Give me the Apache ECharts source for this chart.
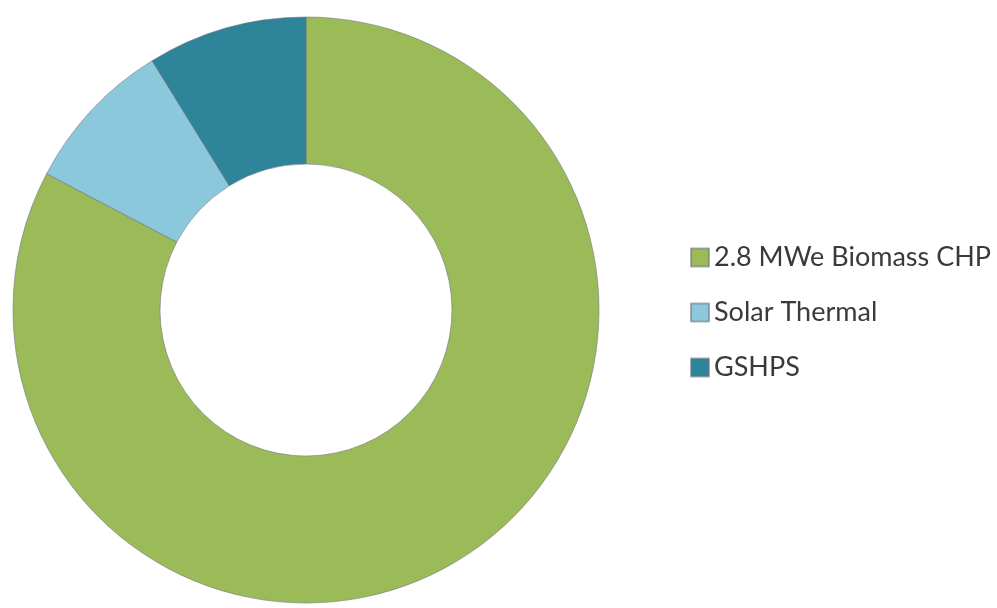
<!DOCTYPE html>
<html>
<head>
<meta charset="utf-8">
<script src="https://cdn.jsdelivr.net/npm/echarts@6/dist/echarts.min.js"></script>
<style>
html,body{margin:0;padding:0;background:#fff;}
#chart{width:997px;height:608px;}
</style>
</head>
<body>
<div id="chart"></div>
<script>
var categories = ['2.8 MWe Biomass CHP', 'Solar Thermal', 'GSHPS'];
var shares = [82.7, 8.5, 8.8];
var colors = ['#9BBB59', '#8CC8DC', '#2E8499'];

var chart = echarts.init(document.getElementById('chart'), null, {renderer: 'canvas'});
chart.setOption({
  animation: false,
  backgroundColor: '#ffffff',
  color: colors,
  legend: {
    orient: 'vertical',
    left: 685,
    top: 239,
    padding: 5,
    itemWidth: 18,
    itemHeight: 18,
    itemGap: 28,
    icon: 'rect',
    data: categories,
    textStyle: {
      fontFamily: 'Lato',
      fontSize: 27,
      color: '#3a3a3a'
    }
  },
  series: [{
    type: 'pie',
    center: [306, 310],
    radius: [146, 293],
    startAngle: 90,
    clockwise: true,
    label: {show: false},
    labelLine: {show: false},
    itemStyle: {
      borderColor: 'rgba(110,110,125,0.55)',
      borderWidth: 1
    },
    emphasis: {disabled: true},
    data: categories.map(function (c, i) {
      return {name: c, value: shares[i]};
    })
  }]
});
</script>
</body>
</html>
